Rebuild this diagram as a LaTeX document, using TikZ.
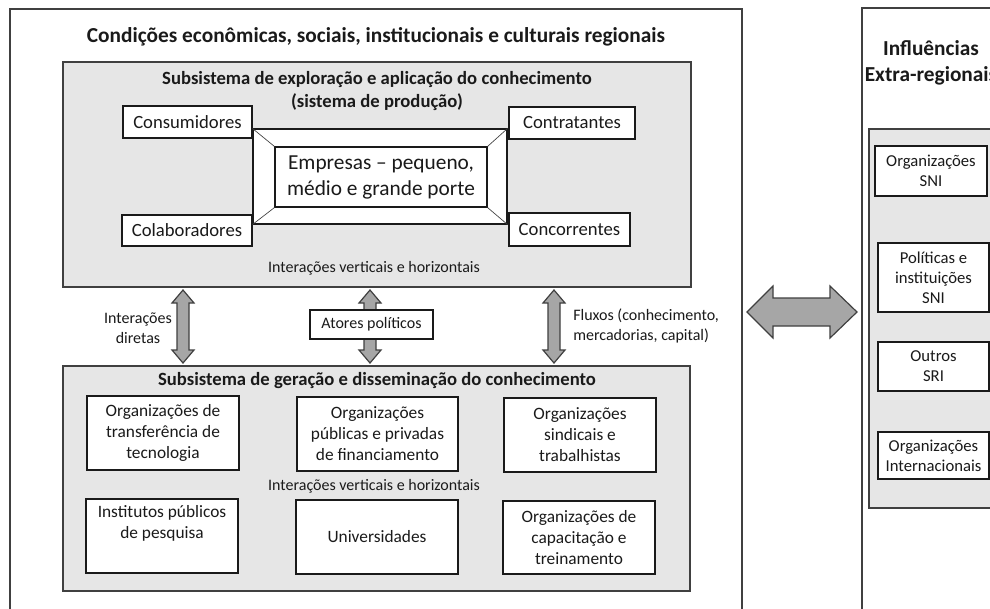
\documentclass[tikz,border=0pt]{standalone}
\usepackage{fontspec}
\setmainfont{Carlito}
\usetikzlibrary{fit}
\definecolor{boxgray}{HTML}{E6E6E6}
\definecolor{edge}{HTML}{404040}
\definecolor{arrowgray}{HTML}{A6A6A6}
\definecolor{ink}{HTML}{1A1A1A}
\newcommand{\szTitle}{\fontsize{16}{19.5}\selectfont}
\newcommand{\szHead}{\fontsize{14}{17.2}\selectfont}
\newcommand{\szBig}{\fontsize{16}{19.5}\selectfont}
\newcommand{\szMid}{\fontsize{14}{17}\selectfont}
\newcommand{\szBox}{\fontsize{13}{15.75}\selectfont}
\newcommand{\szRight}{\fontsize{12.5}{15}\selectfont}
\newcommand{\szSmall}{\fontsize{12}{14.6}\selectfont}
\tikzset{
  panel/.style={draw=edge, line width=0.9pt, fill=white, inner sep=0pt},
  graybox/.style={draw=edge, line width=1.4pt, fill=boxgray, inner sep=0pt},
  whitebox/.style={draw=ink, line width=1pt, fill=white, inner sep=0pt, align=center, text=ink},
  sizepx/.style args={#1/#2}{minimum width=#1*0.75pt, minimum height=#2*0.75pt},
  bevel/.style={draw=edge, line width=0.5pt},
  blockarrow/.style={draw=edge, line width=0.9pt, fill=arrowgray, line join=miter},
  label/.style={text=ink, align=center, inner sep=0pt},
}
\newcommand{\vdarrow}[3]{%
  \draw[blockarrow] (#1,#2) -- (#1+11,#2+13) -- (#1+6,#2+13) -- (#1+6,#3-13) -- (#1+11,#3-13)
    -- (#1,#3) -- (#1-11,#3-13) -- (#1-6,#3-13) -- (#1-6,#2+13) -- (#1-11,#2+13) -- cycle;}
\begin{document}
\begin{tikzpicture}[x=0.75pt,y=-0.75pt]
\clip (0,0) rectangle (990,608);
\fill[white] (0,0) rectangle (990,608);

% left regional panel
\node[panel, fit={(10,9)(742,640)}] (region) {};
\node[label, font=\szTitle\bfseries] (regtitle) at (376,37) {Condições econômicas, sociais, institucionais e culturais regionais};

% production subsystem
\node[graybox, fit={(63,62)(691,287)}] (prod) {};
\node[label, font=\szHead\bfseries] (prodtitle) at (377,91) {Subsistema de exploração e aplicação do conhecimento\\(sistema de produção)};
\node[whitebox, font=\szMid, sizepx=129/32] (cons) at (187.5,122) {Consumidores};
\node[whitebox, font=\szMid, sizepx=130/31] (colab) at (187,230.5) {Colaboradores};
\node[whitebox, font=\szMid, sizepx=126/32] (contr) at (572,123) {Contratantes};
\node[whitebox, font=\szMid, sizepx=121/33] (conc) at (569.5,229.5) {Concorrentes};
\node[whitebox, line width=0.8pt, sizepx=254/95] (frame) at (380,176.5) {};
\node[whitebox, line width=0.8pt, font=\szBig, sizepx=212/60] (emp) at (381,177) {Empresas – pequeno,\\médio e grande porte};
\draw[bevel] (frame.north west) -- (emp.north west);
\draw[bevel] (frame.north east) -- (emp.north east);
\draw[bevel] (frame.south west) -- (emp.south west);
\draw[bevel] (frame.south east) -- (emp.south east);
\node[label, font=\szSmall] (prodint) at (374,268) {Interações verticais e horizontais};

% arrows between subsystems
\vdarrow{183}{290}{363}
\vdarrow{370}{290}{363}
\vdarrow{554}{290}{363}
\node[whitebox, font=\szSmall, sizepx=123/29] (atores) at (371.5,324.5) {Atores políticos};
\node[label, font=\szSmall] (intdir) at (138,328) {Interações\\diretas};
\node[label, font=\szSmall, align=left, anchor=west] (fluxos) at (573,326) {Fluxos (conhecimento,\\mercadorias, capital)};

% knowledge generation subsystem
\node[graybox, fit={(63,366)(690,591)}] (gen) {};
\node[label, font=\szHead\bfseries] (gentitle) at (377,381) {Subsistema de geração e disseminação do conhecimento};
\node[whitebox, font=\szBox, sizepx=152/74] (transf) at (163,433) {Organizações de\\transferência de\\tecnologia};
\node[whitebox, font=\szBox, sizepx=161/74] (financ) at (377.5,434) {Organizações\\públicas e privadas\\de financiamento};
\node[whitebox, font=\szBox, sizepx=152/74] (sind) at (580,435) {Organizações\\sindicais e\\trabalhistas};
\node[label, font=\szSmall] (genint) at (374,486) {Interações verticais e horizontais};
\node[whitebox, font=\szBox, sizepx=152/74] (inst) at (162,536) {Institutos públicos\\de pesquisa\\\strut};
\node[whitebox, font=\szBox, sizepx=162/74] (univ) at (377,537) {Universidades};
\node[whitebox, font=\szBox, sizepx=152/73] (capac) at (579,537.5) {Organizações de\\capacitação e\\treinamento};

% extra-regional panel
\node[panel, fit={(862,8)(1010,640)}] (extra) {};
\node[label, font=\szTitle\bfseries] (extratitle) at (931,63) {Influências\\Extra-regionais};
\node[graybox, fit={(869,129)(1010,508)}] (extragray) {};
\node[whitebox, font=\szRight, sizepx=112/50] (orgsni) at (931,171) {Organizações\\SNI};
\node[whitebox, font=\szRight, sizepx=111/69] (polsni) at (933.5,277.5) {Políticas e\\instituições\\SNI};
\node[whitebox, font=\szRight, sizepx=111/49] (outros) at (933.5,366.5) {Outros\\SRI};
\node[whitebox, font=\szRight, sizepx=111/47] (orgint) at (933.5,455.5) {Organizações\\Internacionais};

% big double arrow between panels
\draw[blockarrow] (747,312) -- (773,286) -- (773,298) -- (830,298) -- (830,286) -- (857,312)
  -- (830,338) -- (830,326) -- (773,326) -- (773,338) -- cycle;
\end{tikzpicture}
\end{document}
